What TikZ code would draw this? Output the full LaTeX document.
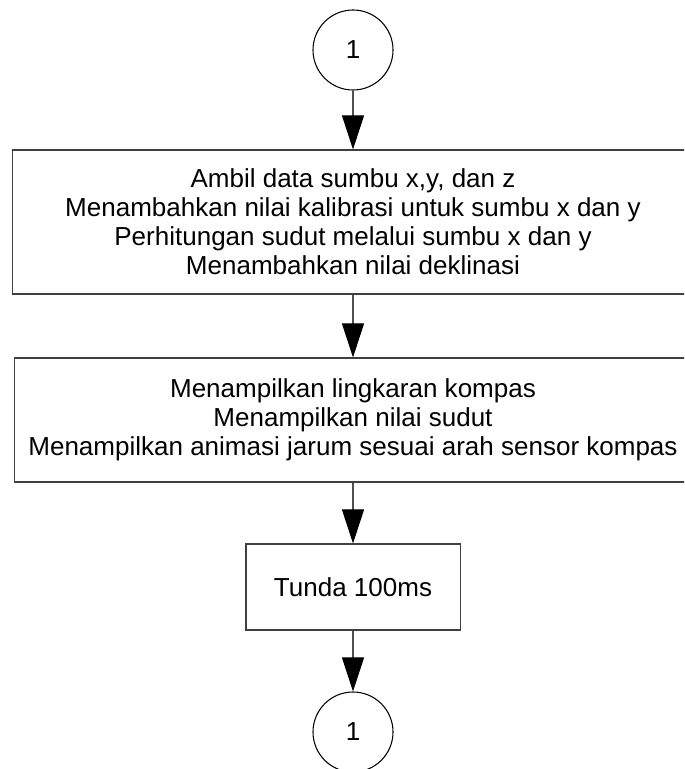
\documentclass[tikz,border=0pt]{standalone}
\usepackage{fontspec}
\setmainfont{Liberation Sans}
\usepackage{tikz}
\usetikzlibrary{positioning,arrows.meta,shapes.geometric}
\definecolor{boxline}{HTML}{404040}
\definecolor{flowline}{HTML}{505050}

\begin{document}
\begin{tikzpicture}[
    x=0.025cm, y=-0.025cm,
    procBox/.style={rectangle, draw=boxline, line width=0.75pt, fill=white, align=center, inner sep=0pt, font=\fontsize{18.5}{20.6}\selectfont},
    connCircle/.style={circle, draw=black, line width=0.75pt, minimum size=2cm, inner sep=0pt, font=\fontsize{18.5}{20.6}\selectfont},
    flow/.style={draw=flowline, line width=0.75pt, -{Triangle[width=0.55cm,length=0.85cm,color=black]}}
]
    \useasboundingbox (0,0) rectangle (684,769);
    \clip (0,0) rectangle (684,769);

    \node[connCircle] (c1) at (353, 50) {1};

    \node[procBox, minimum width=17cm, minimum height=3.6cm] (b1) at (353, 222) {
        Ambil data sumbu x,y, dan z\\
        Menambahkan nilai kalibrasi untuk sumbu x dan y\\
        Perhitungan sudut melalui sumbu x dan y\\
        Menambahkan nilai deklinasi
    };

    \node[procBox, minimum width=16.9cm, minimum height=3.1cm] (b2) at (353, 420) {
        Menampilkan lingkaran kompas\\
        Menampilkan nilai sudut\\
        Menampilkan animasi jarum sesuai arah sensor kompas
    };

    \node[procBox, minimum width=5.35cm, minimum height=2.15cm] (b3) at (353, 587) {Tunda 100ms};

    \node[connCircle] (c2) at (353, 732) {1};

    \draw[flow] (c1) -- (b1);
    \draw[flow] (b1) -- (b2);
    \draw[flow] (b2) -- (b3);
    \draw[flow] (b3) -- (c2);
\end{tikzpicture}
\end{document}
